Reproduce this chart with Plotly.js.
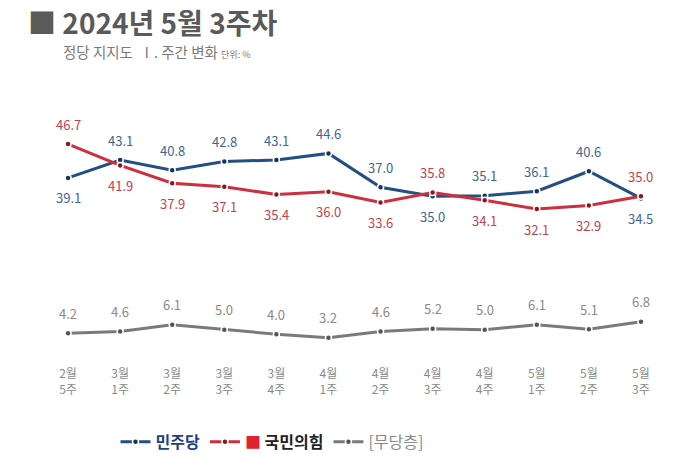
<!DOCTYPE html>
<html><head><meta charset="utf-8">
<script src="https://cdn.plot.ly/plotly-3.0.1.min.js"></script>
<style>body{margin:0;background:#fff}#c{width:700px;height:473px}</style>
</head><body><div id="c"></div>
<script>
const weeks = ["2월<br>5주","3월<br>1주","3월<br>2주","3월<br>3주","3월<br>4주","4월<br>1주","4월<br>2주","4월<br>3주","4월<br>4주","5월<br>1주","5월<br>2주","5월<br>3주"];
const minjoo = [39.1,43.1,40.8,42.8,43.1,44.6,37.0,35.0,35.1,36.1,40.6,34.5];
const ppp = [46.7,41.9,37.9,37.1,35.4,36.0,33.6,35.8,34.1,32.1,32.9,35.0];
const none = [4.2,4.6,6.1,5.0,4.0,3.2,4.6,5.2,5.0,6.1,5.1,6.8];
const minjooPos = ["b","t","t","t","t","t","t","b","t","t","t","b"];
const pppPos = ["t","b","b","b","b","b","b","t","b","b","b","t"];

const idx = weeks.map((_, i) => i);
const F = '"Noto Sans CJK KR", "Noto Sans", sans-serif';
const BLUE = '#234f82', RED = '#cc2f3d', GRAY = '#7a7a7a';
const BLUE_T = '#3f6791', RED_T = '#c24350', GRAY_T = '#8a8a8a';

function tr(name, ys, color, dot) {
  return {x: idx, y: ys, name: name, type: 'scatter', mode: 'lines+markers',
    line: {color: color, width: 3},
    marker: {color: dot, size: 6, line: {color: '#fff', width: 1.5}},
    hoverinfo: 'skip'};
}
const traces = [
  tr('<b><span style="color:#1f3f86">민주당</span></b>', minjoo, BLUE, '#16345a'),
  tr('<span style="color:#e0232e">■</span> <b><span style="color:#222">국민의힘</span></b>', ppp, RED, '#8a1822'),
  tr('<span style="color:#888">[무당층]</span>', none, GRAY, '#555')
];

const ann = [];
function labels(ys, pos, color) {
  ys.forEach((v, i) => {
    const up = pos === null || pos[i] === 't';
    ann.push({x: i, y: v, xref: 'x', yref: 'y', text: v.toFixed(1), showarrow: false,
      yshift: up ? 20 : -20, font: {family: F, size: 13, color: color}});
  });
}
labels(minjoo, minjooPos, BLUE_T);
labels(ppp, pppPos, RED_T);
labels(none, null, GRAY_T);

ann.push({xref: 'paper', yref: 'paper', x: -0.025, y: 1.30, xanchor: 'left', yanchor: 'middle', showarrow: false,
  text: '<b>■ 2024년 5월 3주차</b>', font: {family: F, size: 28, color: '#5a5a5a'}});
ann.push({xref: 'paper', yref: 'paper', x: 0.03, y: 1.185, xanchor: 'left', yanchor: 'middle', showarrow: false,
  text: '정당 지지도  Ⅰ. 주간 변화 <span style="font-size:9px">단위: %</span>', font: {family: F, size: 14.5, color: '#7a7a7a'}});

const layout = {
  width: 700, height: 473,
  margin: {l: 42, r: 33, t: 100, b: 113},
  paper_bgcolor: '#fff', plot_bgcolor: '#fff',
  showlegend: true,
  legend: {orientation: 'h', x: 0.368, xanchor: 'center', y: -0.315, yanchor: 'middle',
    font: {family: F, size: 16, color: '#333'}, itemwidth: 30, traceorder: 'normal'},
  xaxis: {range: [-0.5, 11.5], tickvals: idx, ticktext: weeks, showgrid: false, zeroline: false,
    showline: false, ticks: '', ticklabelstandoff: 5, tickfont: {family: F, size: 12, color: '#8a8a8a'}, fixedrange: true},
  yaxis: {range: [-1.8, 56.6], visible: false, showgrid: false, zeroline: false, fixedrange: true},
  annotations: ann
};
Plotly.newPlot('c', traces, layout, {displayModeBar: false, staticPlot: true});
</script></body></html>
